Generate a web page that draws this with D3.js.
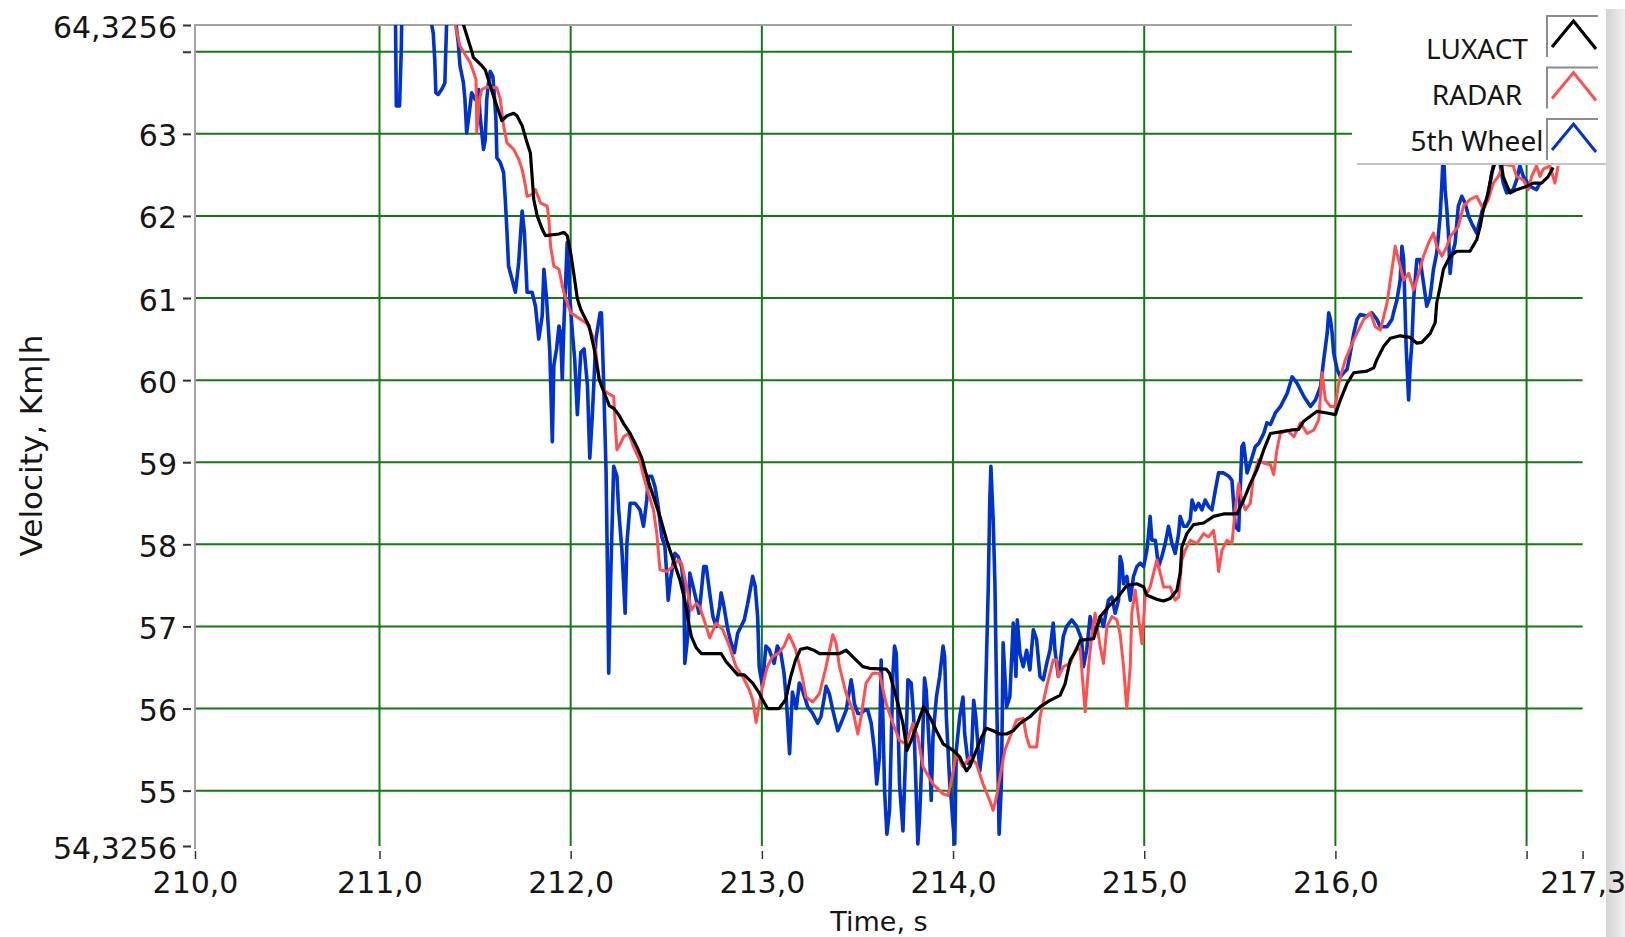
<!DOCTYPE html>
<html>
<head>
<meta charset="utf-8">
<script src="https://cdnjs.cloudflare.com/ajax/libs/d3/7.8.5/d3.min.js"></script>
<style>
body { margin: 0; background: #ffffff; }
#chart { width: 1625px; height: 937px; }
.tick-label { font-family: "DejaVu Sans", sans-serif; font-size: 30px; fill: #151515; }
.axis-label { font-family: "DejaVu Sans", sans-serif; fill: #151515; }
.legend-label { font-family: "Noto Sans", sans-serif; font-size: 28px; fill: #151515; }
</style>
</head>
<body>
<div id="chart"></div>
<script>
var width = 1625
var height = 937
const margin = {top: 25, right: 42.4, bottom: 91, left: 195}

// axis ticks as printed by the chart
var xTickValues = [210.035, 211, 212, 213, 214, 215, 216, 217, 217.293]
var xTickLabels = ["210,0", "211,0", "212,0", "213,0", "214,0", "215,0", "216,0", "", "217,3"]
var yTickValues = [54.3256, 55, 56, 57, 58, 59, 60, 61, 62, 63, 64, 64.3256]
var yTickLabels = ["54,3256", "55", "56", "57", "58", "59", "60", "61", "62", "63", "", "64,3256"]
var xGrid = [211, 212, 213, 214, 215, 216, 217]
var yGrid = [55, 56, 57, 58, 59, 60, 61, 62, 63, 64]

var seriesNames = ["LUXACT", "RADAR", "5th Wheel"]
var seriesColors = ["#000000", "#ff4f4f", "#0032cc"]

// time [s], velocity [km/h]
var luxact = [[211.439,64.33],[211.482,64.01],[211.491,63.93],[211.535,63.83],[211.553,63.78],[211.570,63.66],[211.596,63.46],[211.640,63.16],[211.667,63.22],[211.702,63.25],[211.719,63.22],[211.746,63.10],[211.772,62.89],[211.789,62.77],[211.798,62.49],[211.807,62.20],[211.825,62.00],[211.851,61.84],[211.868,61.76],[211.939,61.78],[211.965,61.80],[211.982,61.76],[212.000,61.55],[212.018,61.27],[212.035,60.99],[212.053,60.86],[212.070,60.78],[212.096,60.66],[212.123,60.38],[212.149,60.01],[212.175,59.85],[212.202,59.69],[212.228,59.65],[212.251,59.58],[212.277,59.47],[212.311,59.35],[212.346,59.19],[212.372,59.05],[212.398,58.83],[212.433,58.58],[212.467,58.34],[212.502,58.05],[212.536,57.81],[212.571,57.57],[212.597,57.32],[212.614,57.08],[212.631,56.88],[212.657,56.74],[212.683,56.67],[212.787,56.67],[212.813,56.57],[212.848,56.48],[212.874,56.41],[212.908,56.41],[212.952,56.31],[212.986,56.19],[213.003,56.11],[213.03,56.0],[213.09,56.0],[213.125,56.11],[213.151,56.39],[213.176,56.59],[213.202,56.72],[213.237,56.74],[213.272,56.71],[213.301,56.67],[213.406,56.67],[213.441,56.71],[213.476,56.63],[213.528,56.51],[213.563,56.49],[213.650,56.48],[213.668,56.43],[213.703,56.14],[213.738,55.82],[213.759,55.49],[213.781,55.61],[213.808,55.78],[213.846,56.02],[213.878,55.90],[213.913,55.73],[213.948,55.57],[214.000,55.49],[214.035,55.41],[214.070,55.24],[214.087,55.29],[214.122,55.49],[214.149,55.65],[214.175,55.76],[214.210,55.73],[214.245,55.69],[214.280,55.69],[214.315,55.73],[214.350,55.82],[214.402,55.90],[214.455,56.02],[214.507,56.10],[214.560,56.16],[214.586,56.30],[214.613,56.59],[214.639,56.69],[214.665,56.83],[214.735,56.85],[214.770,57.12],[214.813,57.24],[214.857,57.34],[214.909,57.50],[214.962,57.52],[214.997,57.48],[215.014,57.38],[215.066,57.33],[215.101,57.31],[215.136,57.34],[215.171,57.44],[215.188,57.65],[215.197,57.97],[215.223,58.13],[215.258,58.24],[215.311,58.26],[215.363,58.34],[215.415,58.37],[215.485,58.37],[215.520,58.54],[215.555,58.74],[215.590,58.91],[215.625,59.15],[215.660,59.35],[215.712,59.37],[215.764,59.39],[215.808,59.40],[215.834,59.50],[215.904,59.62],[215.956,59.60],[216.000,59.58],[216.026,59.76],[216.061,59.96],[216.096,60.09],[216.165,60.11],[216.200,60.15],[216.217,60.25],[216.252,60.41],[216.287,60.51],[216.339,60.54],[216.391,60.52],[216.426,60.45],[216.452,60.46],[216.496,60.57],[216.522,60.70],[216.530,60.94],[216.548,61.14],[216.565,61.35],[216.600,61.51],[216.635,61.57],[216.704,61.57],[216.739,61.71],[216.757,61.87],[216.774,62.08],[216.800,62.28],[216.817,62.52],[216.843,62.70],[216.860,62.75],[216.878,62.48],[216.913,62.28],[216.948,62.32],[217.000,62.36],[217.035,62.40],[217.078,62.40],[217.113,62.48],[217.139,62.59]]

var radar = [[211.395,64.34],[211.421,64.07],[211.447,63.97],[211.474,63.87],[211.491,63.76],[211.505,63.66],[211.509,63.02],[211.523,63.42],[211.535,63.54],[211.561,63.57],[211.614,63.56],[211.632,63.42],[211.649,63.10],[211.667,62.89],[211.702,62.81],[211.728,62.69],[211.746,62.57],[211.763,62.37],[211.772,62.24],[211.798,62.26],[211.816,62.32],[211.842,62.16],[211.877,62.12],[211.886,61.96],[211.895,61.63],[211.912,61.39],[211.939,61.35],[211.956,61.15],[211.974,60.99],[212.000,60.82],[212.053,60.74],[212.088,60.68],[212.114,60.54],[212.132,60.34],[212.149,60.01],[212.167,59.89],[212.202,59.83],[212.225,59.80],[212.234,59.43],[212.242,59.15],[212.263,59.24],[212.277,59.31],[212.303,59.35],[212.329,59.19],[212.363,59.01],[212.381,58.83],[212.407,58.62],[212.433,58.42],[212.450,58.14],[212.467,57.69],[212.502,57.67],[212.536,57.73],[212.562,57.81],[212.580,57.77],[212.606,57.49],[212.631,57.20],[212.657,57.28],[212.675,57.24],[212.709,57.00],[212.727,56.86],[212.761,57.04],[212.796,56.96],[212.830,56.76],[212.865,56.51],[212.900,56.39],[212.934,56.23],[212.952,56.11],[212.970,55.83],[213.003,56.27],[213.029,56.51],[213.055,56.63],[213.090,56.68],[213.116,56.76],[213.142,56.90],[213.176,56.72],[213.211,56.39],[213.231,56.14],[213.266,56.08],[213.301,56.18],[213.336,56.51],[213.371,56.90],[213.388,56.80],[213.406,56.51],[213.441,56.18],[213.476,55.98],[213.502,55.69],[213.519,55.90],[213.545,56.31],[213.580,56.43],[213.615,56.43],[213.650,56.06],[213.685,55.82],[213.720,55.61],[213.755,55.57],[213.790,55.82],[213.816,55.65],[213.843,55.29],[213.895,55.08],[213.948,54.96],[213.974,54.94],[213.991,55.12],[214.017,55.45],[214.052,55.29],[214.087,55.41],[214.122,55.33],[214.157,55.08],[214.192,54.88],[214.210,54.76],[214.227,54.92],[214.245,55.16],[214.271,55.49],[214.297,55.65],[214.332,55.86],[214.367,55.88],[214.385,55.65],[214.402,55.53],[214.437,55.53],[214.455,55.90],[214.490,56.27],[214.524,56.59],[214.542,56.59],[214.551,56.39],[214.578,56.51],[214.613,56.55],[214.639,56.71],[214.665,56.73],[214.682,56.22],[214.691,55.96],[214.709,56.51],[214.726,56.91],[214.743,57.16],[214.770,56.75],[214.787,56.55],[214.805,57.00],[214.831,57.12],[214.857,57.08],[214.874,56.91],[214.892,56.51],[214.909,56.00],[214.927,56.51],[214.935,57.16],[214.953,57.44],[214.970,57.12],[214.988,56.79],[215.005,57.36],[215.031,57.48],[215.066,57.81],[215.084,57.65],[215.101,57.48],[215.136,57.48],[215.162,57.32],[215.180,57.36],[215.197,57.81],[215.215,57.93],[215.241,58.05],[215.276,58.01],[215.311,58.13],[215.337,58.09],[215.363,58.17],[215.380,57.89],[215.389,57.67],[215.407,57.93],[215.433,58.05],[215.459,58.01],[215.476,58.42],[215.494,58.74],[215.511,58.54],[215.529,58.42],[215.555,58.50],[215.572,58.83],[215.598,59.03],[215.625,58.99],[215.660,58.97],[215.677,58.85],[215.694,59.15],[215.712,59.35],[215.748,59.39],[215.783,59.31],[215.817,59.48],[215.852,59.35],[215.887,59.39],[215.913,59.52],[215.930,60.09],[215.948,59.76],[215.974,59.68],[216.000,59.68],[216.017,59.96],[216.052,60.25],[216.096,60.49],[216.148,60.74],[216.183,60.82],[216.209,60.65],[216.235,60.61],[216.270,60.94],[216.296,61.35],[216.313,61.63],[216.330,61.47],[216.357,61.22],[216.383,61.30],[216.409,61.10],[216.426,61.22],[216.461,61.51],[216.487,61.67],[216.513,61.79],[216.530,61.63],[216.557,61.51],[216.583,61.63],[216.600,61.75],[216.643,61.87],[216.670,62.12],[216.704,62.20],[216.739,62.24],[216.774,62.08],[216.800,62.20],[216.826,62.40],[216.852,62.48],[216.878,62.63],[216.930,62.61],[216.948,62.48],[216.983,62.44],[217.009,62.32],[217.026,62.48],[217.052,62.61],[217.070,62.48],[217.087,62.57],[217.122,62.61],[217.148,62.40],[217.165,62.61]]

// 64.6 = trace leaves the top of the plot
var wheel = [[211.070,64.6],[211.084,64.34],[211.088,63.34],[211.105,63.34],[211.114,64.03],[211.116,64.34],[211.130,64.6],[211.260,64.6],[211.272,64.34],[211.281,64.23],[211.289,63.91],[211.295,63.50],[211.307,63.48],[211.325,63.54],[211.342,63.62],[211.347,64.03],[211.351,64.34],[211.360,64.6],[211.390,64.6],[211.400,64.34],[211.412,64.11],[211.421,63.83],[211.439,63.62],[211.447,63.42],[211.456,63.01],[211.470,63.26],[211.482,63.50],[211.500,63.42],[211.518,63.54],[211.526,63.22],[211.544,62.81],[211.553,62.93],[211.561,63.42],[211.570,63.62],[211.579,63.76],[211.593,63.70],[211.600,63.50],[211.609,63.18],[211.614,62.71],[211.632,62.65],[211.649,62.53],[211.658,62.20],[211.667,61.80],[211.675,61.39],[211.693,61.23],[211.711,61.07],[211.728,61.43],[211.746,62.06],[211.758,61.80],[211.772,61.07],[211.798,61.07],[211.816,60.90],[211.833,60.50],[211.851,60.78],[211.860,61.35],[211.874,60.99],[211.891,60.34],[211.904,59.25],[211.912,60.18],[211.926,60.38],[211.939,60.66],[211.947,60.58],[211.956,60.01],[211.965,60.70],[211.982,61.68],[211.996,60.99],[212.009,60.58],[212.021,60.26],[212.035,59.58],[212.053,60.34],[212.070,60.38],[212.088,59.93],[212.100,59.05],[212.112,59.52],[212.120,59.90],[212.132,60.50],[212.154,60.82],[212.161,60.82],[212.172,60.01],[212.185,58.90],[212.193,57.60],[212.199,56.43],[212.208,57.49],[212.225,58.95],[212.242,58.83],[212.251,58.42],[212.268,57.93],[212.285,57.16],[212.294,58.01],[212.311,58.50],[212.337,58.50],[212.363,58.42],[212.381,58.22],[212.398,58.54],[212.407,58.83],[212.424,58.83],[212.441,58.70],[212.458,58.46],[212.476,58.10],[212.493,57.97],[212.502,57.65],[212.510,57.32],[212.522,57.57],[212.545,57.89],[212.562,57.85],[212.580,57.73],[212.592,57.49],[212.597,56.55],[212.614,56.92],[212.623,57.65],[212.640,57.49],[212.657,57.32],[212.671,57.16],[212.683,57.41],[212.696,57.73],[212.709,57.73],[212.727,57.41],[212.744,57.12],[212.761,57.00],[212.779,57.24],[212.787,57.41],[212.799,57.28],[212.822,56.96],[212.839,56.80],[212.856,56.68],[212.874,56.92],[212.891,57.00],[212.908,57.08],[212.926,57.28],[212.952,57.61],[212.965,57.49],[212.978,57.12],[212.986,56.51],[213.003,56.27],[213.021,56.76],[213.038,56.72],[213.064,56.55],[213.081,56.76],[213.099,56.68],[213.116,56.43],[213.128,56.11],[213.145,55.45],[213.160,56.20],[213.180,56.00],[213.196,56.31],[213.213,56.22],[213.240,56.02],[213.266,55.94],[213.292,55.82],[213.309,55.90],[213.327,56.14],[213.336,56.27],[213.353,56.18],[213.371,55.98],[213.397,55.73],[213.414,55.82],[213.441,55.98],[213.458,56.22],[213.467,56.35],[213.476,56.22],[213.484,56.06],[213.502,55.94],[213.519,55.94],[213.537,55.98],[213.554,55.98],[213.572,55.82],[213.589,55.49],[213.601,55.08],[213.615,55.41],[213.624,56.59],[213.633,55.90],[213.642,55.00],[213.654,54.47],[213.668,54.76],[213.685,56.39],[213.694,56.76],[213.703,56.67],[213.712,55.90],[213.720,55.08],[213.738,54.51],[213.755,55.65],[213.764,56.35],[213.781,56.31],[213.794,55.90],[213.808,54.92],[213.816,54.35],[213.825,54.67],[213.839,55.49],[213.851,56.37],[213.860,56.22],[213.878,55.41],[213.886,54.88],[213.895,55.65],[213.913,56.14],[213.930,56.39],[213.948,56.76],[213.956,56.63],[213.965,55.90],[213.983,55.08],[213.991,54.88],[214.000,54.59],[214.009,54.35],[214.017,55.49],[214.035,55.90],[214.052,56.14],[214.061,55.69],[214.079,55.33],[214.096,55.41],[214.108,56.10],[214.119,55.90],[214.140,55.24],[214.166,55.78],[214.184,57.45],[214.192,58.50],[214.198,58.95],[214.210,58.30],[214.219,57.53],[214.227,56.31],[214.241,54.47],[214.253,55.08],[214.262,56.80],[214.280,56.02],[214.297,56.14],[214.315,57.04],[214.329,56.39],[214.336,57.08],[214.350,56.67],[214.367,56.51],[214.385,56.71],[214.402,56.47],[214.420,56.96],[214.437,56.84],[214.455,56.39],[214.472,56.35],[214.490,56.55],[214.507,56.71],[214.524,57.04],[214.533,56.71],[214.551,56.39],[214.568,56.71],[214.577,56.88],[214.594,57.00],[214.621,57.08],[214.647,57.00],[214.673,56.84],[214.682,56.51],[214.699,56.71],[214.717,57.12],[214.734,56.92],[214.752,57.00],[214.770,57.12],[214.787,57.00],[214.813,57.32],[214.831,57.36],[214.848,57.16],[214.866,57.32],[214.874,57.85],[214.883,57.77],[214.892,57.52],[214.909,57.61],[214.927,57.32],[214.944,57.61],[214.962,57.73],[214.979,57.77],[214.997,57.73],[215.014,57.93],[215.023,58.13],[215.031,58.34],[215.040,58.05],[215.058,58.05],[215.075,57.73],[215.092,57.85],[215.110,58.01],[215.127,58.22],[215.145,58.01],[215.162,57.89],[215.180,58.13],[215.188,58.34],[215.206,58.22],[215.223,58.22],[215.241,58.30],[215.250,58.54],[215.267,58.42],[215.284,58.50],[215.302,58.42],[215.319,58.54],[215.337,58.46],[215.354,58.42],[215.372,58.66],[215.389,58.87],[215.415,58.87],[215.442,58.83],[215.459,58.78],[215.476,58.22],[215.494,58.17],[215.511,59.19],[215.520,59.23],[215.538,58.87],[215.555,58.99],[215.581,59.19],[215.599,59.23],[215.625,59.35],[215.642,59.48],[215.660,59.46],[215.686,59.60],[215.713,59.68],[215.748,59.84],[215.774,60.04],[215.800,59.96],[215.835,59.80],[215.870,59.68],[215.896,59.76],[215.922,59.92],[215.939,60.25],[215.957,60.57],[215.965,60.82],[215.974,60.74],[215.983,60.57],[215.991,60.33],[216.009,60.13],[216.026,60.04],[216.043,60.09],[216.061,60.13],[216.078,60.33],[216.096,60.57],[216.113,60.74],[216.130,60.80],[216.165,60.78],[216.191,60.82],[216.217,60.74],[216.235,60.65],[216.270,60.65],[216.296,60.74],[216.304,60.82],[216.322,60.98],[216.339,61.22],[216.348,61.63],[216.357,61.47],[216.370,60.41],[216.383,59.76],[216.391,60.17],[216.400,60.45],[216.409,60.98],[216.426,61.47],[216.443,61.47],[216.461,61.18],[216.478,60.90],[216.496,61.02],[216.513,61.35],[216.530,61.55],[216.548,62.00],[216.557,62.40],[216.565,62.80],[216.574,62.32],[216.583,62.08],[216.591,61.79],[216.600,61.30],[216.609,61.51],[216.626,61.67],[216.643,62.12],[216.661,62.24],[216.678,62.16],[216.696,62.00],[216.713,61.91],[216.739,61.79],[216.757,61.96],[216.774,62.12],[216.791,62.20],[216.809,62.40],[216.826,62.61],[216.850,62.80],[216.878,62.40],[216.896,62.28],[216.930,62.32],[216.948,62.44],[216.965,62.61],[216.983,62.48],[217.017,62.36],[217.052,62.32],[217.070,62.40]]

var svg, plot_svg
var xScale, yScale

drawChart()

function drawChart()
{
    xScale = d3.scaleLinear()
        .domain([xTickValues[0], xTickValues[xTickValues.length - 1]])
        .range([margin.left, width - margin.right])
    yScale = d3.scaleLinear()
        .domain([yTickValues[0], yTickValues[yTickValues.length - 1]])
        .range([height - margin.bottom, margin.top])

    svg = d3.select("#chart")
        .append("svg")
        .attr("width", width)
        .attr("height", height)
        .attr("display", "block")

    svg.append("defs").append("clipPath")
        .attr("id", "clipPlot")
        .append("rect")
        .attr("x", margin.left)
        .attr("y", margin.top)
        .attr("width", width - margin.left - margin.right)
        .attr("height", height - margin.top - margin.bottom)

    drawEdge()

    // grid
    var grid = svg.append("g").attr("stroke", "#127a12").attr("stroke-width", 2)
    grid.selectAll(".gx")
        .data(xGrid)
        .enter()
        .append("line")
        .attr("x1", d => xScale(d)).attr("x2", d => xScale(d))
        .attr("y1", yScale.range()[1]).attr("y2", yScale.range()[0])
    grid.selectAll(".gy")
        .data(yGrid)
        .enter()
        .append("line")
        .attr("x1", xScale.range()[0]).attr("x2", xScale.range()[1])
        .attr("y1", d => yScale(d)).attr("y2", d => yScale(d))

    // frame: only top and left edges are drawn
    svg.append("path")
        .attr("d", "M" + margin.left + "," + (height - margin.bottom + 3) + "V" + margin.top + "H" + xScale.range()[1])
        .attr("fill", "none")
        .attr("stroke", "#a3a3a3")
        .attr("stroke-width", 2)

    // velocity
    var yAxis = d3.axisLeft(yScale)
        .tickValues(yTickValues)
        .tickFormat((d, i) => yTickLabels[i])
        .tickSizeInner(8)
        .tickSizeOuter(0)
        .tickPadding(6)
    var yg = svg.append("g")
        .attr("transform", "translate(" + (margin.left - 4) + ",0)")
        .call(yAxis)
    yg.select(".domain").remove()
    yg.selectAll(".tick line").attr("stroke", "#333").attr("stroke-width", 2)
    yg.selectAll(".tick text").attr("class", "tick-label").attr("dy", "0.4em")
        .attr("font-family", null).attr("font-size", null).attr("fill", null)

    // time
    var xAxis = d3.axisBottom(xScale)
        .tickValues(xTickValues)
        .tickFormat((d, i) => xTickLabels[i])
        .tickSizeInner(8)
        .tickSizeOuter(0)
        .tickPadding(13)
    var xg = svg.append("g")
        .attr("transform", "translate(0," + (height - margin.bottom + 5) + ")")
        .call(xAxis)
    xg.select(".domain").remove()
    xg.selectAll(".tick line").attr("stroke", "#333").attr("stroke-width", 1.5)
    xg.selectAll(".tick text").attr("class", "tick-label")
        .attr("font-family", null).attr("font-size", null).attr("fill", null)

    svg.append("text")
        .attr("class", "axis-label")
        .attr("transform", "translate(42," + ((margin.top + height - margin.bottom) / 2 + 10) + ") rotate(-90)")
        .style("text-anchor", "middle")
        .style("font-size", "31px")
        .text("Velocity, Km|h")
    svg.append("text")
        .attr("class", "axis-label")
        .attr("x", 879)
        .attr("y", 931)
        .style("text-anchor", "middle")
        .style("font-size", "27px")
        .text("Time, s")

    // traces, 5th wheel first so the reference sits on top
    plot_svg = svg.append("g").attr("clip-path", "url(#clipPlot)")
    var line = d3.line()
        .x(d => xScale(d[0]))
        .y(d => yScale(d[1]))
    var traces = [
        {data: wheel, color: seriesColors[2], w: 3.6},
        {data: radar, color: seriesColors[1], w: 3},
        {data: luxact, color: seriesColors[0], w: 3.2}
    ]
    plot_svg.selectAll(".trace")
        .data(traces)
        .enter()
        .append("path")
        .attr("class", "trace")
        .attr("d", t => line(t.data))
        .attr("fill", "none")
        .attr("stroke", t => t.color)
        .attr("stroke-width", t => t.w)
        .attr("stroke-linejoin", "round")

    drawLegend()
}

function drawLegend()
{
    var lg = svg.append("g")
    lg.append("rect")
        .attr("x", 1352).attr("y", 0)
        .attr("width", 254).attr("height", 164)
        .attr("fill", "#ffffff")
    lg.append("line")
        .attr("x1", 1357).attr("x2", 1606)
        .attr("y1", 164).attr("y2", 164)
        .attr("stroke", "#c4c4c4").attr("stroke-width", 2)

    var rowTop = [16, 67.5, 119]
    var rowBase = [59, 104.5, 150.5]
    var rows = lg.selectAll(".legend-row")
        .data(seriesNames)
        .enter()
        .append("g")
        .attr("class", "legend-row")

    rows.append("text")
        .attr("class", "legend-label")
        .attr("x", 1477)
        .attr("y", (d, i) => rowBase[i])
        .style("text-anchor", "middle")
        .text(d => d)
    rows.append("path")
        .attr("d", (d, i) => "M1547," + (rowTop[i] + 41) + "V" + rowTop[i] + "H1598")
        .attr("fill", "none")
        .attr("stroke", "#8c8c8c")
        .attr("stroke-width", 2)
    rows.append("path")
        .attr("d", (d, i) => "M1552," + (rowTop[i] + 31) + "L1573.5," + (rowTop[i] + 5) + "L1596," + (rowTop[i] + 33))
        .attr("fill", "none")
        .attr("stroke", (d, i) => seriesColors[i])
        .attr("stroke-width", (d, i) => i == 0 ? 3.2 : 3)
}

function drawEdge()
{
    // light bevel strip at the right border of the panel
    var grad = svg.select("defs").append("linearGradient")
        .attr("id", "edgeGrad")
        .attr("x1", "0%").attr("x2", "100%")
    grad.append("stop").attr("offset", "0%").attr("stop-color", "#d4d4d4")
    grad.append("stop").attr("offset", "100%").attr("stop-color", "#f0f0f0")
    svg.append("rect")
        .attr("x", 1606).attr("y", 9)
        .attr("width", 19).attr("height", height - 9)
        .attr("fill", "url(#edgeGrad)")
}
</script>
</body>
</html>
